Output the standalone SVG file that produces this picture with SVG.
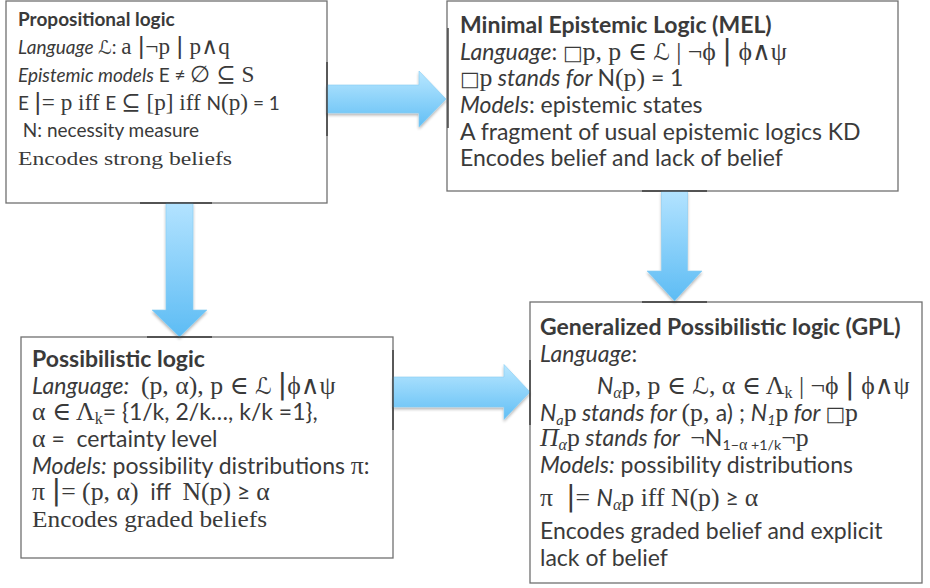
<svg xmlns="http://www.w3.org/2000/svg" width="930" height="588" viewBox="0 0 930 588">
<style>
.box{fill:#fff;stroke:#707070;stroke-width:1.3}
.acc{stroke:#3a3a3a;stroke-width:1.4;fill:none}
.t{font-family:Lato,"Liberation Sans",sans-serif;fill:#3a3a3a;font-size:23px}
.t1{font-size:19px}
.b{font-weight:bold}
.i{font-style:italic}
.m{font-family:"Liberation Serif","DejaVu Serif",serif;font-size:1.12em}
.t1 .m{font-size:1.22em}
.sc{font-family:"DejaVu Serif","DejaVu Sans",serif;font-style:italic}
.sq{font-family:"DejaVu Sans",sans-serif;font-size:0.9em}
.bar{font-family:"DejaVu Sans",sans-serif;font-size:1.25em}
.sub{font-size:0.62em}
.t .sub.m{font-size:0.7em}
.enc{font-family:"Liberation Serif","DejaVu Serif",serif}
.arrow{stroke:#86cdf3;stroke-width:0.6;filter:url(#sh)}
</style>
<defs>
<linearGradient id="gh" x1="0" y1="0" x2="0" y2="1">
<stop offset="0" stop-color="#b9e7ff"/>
<stop offset="1" stop-color="#62bff5"/>
</linearGradient>
<linearGradient id="gv" x1="0" y1="0" x2="0" y2="1">
<stop offset="0" stop-color="#b3e3ff"/>
<stop offset="1" stop-color="#5dbcf4"/>
</linearGradient>
<filter id="sh" x="-20%" y="-20%" width="150%" height="150%">
<feGaussianBlur in="SourceAlpha" stdDeviation="1.5"/>
<feOffset dx="0" dy="2" result="o"/>
<feComponentTransfer><feFuncA type="linear" slope="0.3"/></feComponentTransfer>
<feMerge><feMergeNode/><feMergeNode in="SourceGraphic"/></feMerge>
</filter>
</defs>

<g id="prop">
<rect class="box" x="6" y="1" width="321" height="202"/>
<text class="t t1 b" x="18" y="26">Propositional logic</text>
<text class="t t1" x="18" y="54"><tspan class="i">Language </tspan><tspan class="sc">ℒ</tspan>: <tspan class="m">a </tspan><tspan class="bar">|</tspan><tspan class="m">¬p </tspan><tspan class="bar">|</tspan><tspan class="m"> p∧q</tspan></text>
<text class="t t1" x="18" y="82"><tspan class="i">Epistemic models</tspan> E ≠ <tspan class="m">∅ ⊆ S</tspan></text>
<text class="t t1" x="18" y="110">E <tspan class="bar">|</tspan><tspan class="m">= p iff </tspan>E <tspan class="m">⊆ [p] iff </tspan>N<tspan class="m">(p)</tspan> = 1</text>
<text class="t t1" x="18" y="137" xml:space="preserve"> N: necessity measure</text>
<text class="t t1 enc" x="18" y="165" font-size="22" textLength="214" lengthAdjust="spacingAndGlyphs">Encodes strong beliefs</text>
</g>

<g id="mel">
<rect class="box" x="447" y="1" width="451" height="190"/>
<text class="t b" x="460" y="33">Minimal Epistemic Logic (MEL)</text>
<text class="t" x="460" y="59.5"><tspan class="i">Language</tspan>: <tspan class="sq">□</tspan><tspan class="m">p, p ∈ </tspan><tspan class="sc">ℒ</tspan><tspan class="m"> | ¬ϕ </tspan><tspan class="bar">|</tspan><tspan class="m"> ϕ∧ψ</tspan></text>
<text class="t" x="460" y="86"><tspan class="sq">□</tspan><tspan class="m">p</tspan><tspan class="i"> stands for </tspan>N<tspan class="m">(p)</tspan> = 1</text>
<text class="t" x="460" y="113"><tspan class="i">Models</tspan>: epistemic states</text>
<text class="t" x="460" y="139.5">A fragment of usual epistemic logics KD</text>
<text class="t" x="460" y="166">Encodes belief and lack of belief</text>
</g>

<g id="poss">
<rect class="box" x="21" y="337" width="372" height="221"/>
<text class="t b" x="32" y="367">Possibilistic logic</text>
<text class="t" x="32" y="393.5" xml:space="preserve"><tspan class="i">Language:</tspan>  <tspan class="m">(p, α), p ∈ </tspan><tspan class="sc">ℒ</tspan> <tspan class="bar">|</tspan><tspan class="m">ϕ∧ψ</tspan></text>
<text class="t" x="32" y="420"><tspan class="m">α ∈ Λ</tspan><tspan class="m sub" dy="4">k</tspan><tspan dy="-4">= {1/k, 2/k…, k/k =1},</tspan></text>
<text class="t" x="32" y="447" xml:space="preserve"><tspan class="m">α</tspan> =  certainty level</text>
<text class="t" x="32" y="474"><tspan class="i">Models:</tspan> possibility distributions <tspan class="m">π</tspan>:</text>
<text class="t" x="32" y="500" xml:space="preserve"><tspan class="m">π </tspan><tspan class="bar">|</tspan><tspan class="m">= (p, α)</tspan>  iff  <tspan class="m">N(p)</tspan> ≥ <tspan class="m">α</tspan></text>
<text class="t enc" x="32" y="527" font-size="24" textLength="235" lengthAdjust="spacingAndGlyphs">Encodes graded beliefs</text>
</g>

<g id="gpl">
<rect class="box" x="530" y="302" width="392" height="281"/>
<text class="t b" x="540" y="335">Generalized Possibilistic logic (GPL)</text>
<text class="t" x="540" y="362"><tspan class="i">Language</tspan>:</text>
<text class="t" x="597" y="394"><tspan class="i">N</tspan><tspan class="m i sub" dy="4">α</tspan><tspan class="m" dy="-4">p, p ∈ </tspan><tspan class="sc">ℒ</tspan><tspan class="m">, α ∈ Λ</tspan><tspan class="m sub" dy="4">k</tspan><tspan class="m" dy="-4"> | ¬ϕ </tspan><tspan class="bar">|</tspan><tspan class="m"> ϕ∧ψ</tspan></text>
<text class="t" x="540" y="421"><tspan class="i">N</tspan><tspan class="i sub" dy="4">a</tspan><tspan class="m" dy="-4">p</tspan><tspan class="i"> stands for </tspan><tspan class="m">(p, </tspan>a) ; <tspan class="i">N</tspan><tspan class="i sub" dy="4">1</tspan><tspan class="m" dy="-4">p</tspan><tspan class="i"> for </tspan><tspan class="sq">□</tspan><tspan class="m">p</tspan></text>
<text class="t" x="540" y="446" xml:space="preserve"><tspan class="m i">Π</tspan><tspan class="m i sub" dy="4">α</tspan><tspan class="m" dy="-4">p</tspan><tspan class="i"> stands for  </tspan><tspan class="m">¬</tspan>N<tspan class="sub" dy="4">1−</tspan><tspan class="m sub">α</tspan><tspan class="sub"> +1/k</tspan><tspan class="m" dy="-4">¬p</tspan></text>
<text class="t" x="540" y="473"><tspan class="i">Models:</tspan> possibility distributions</text>
<text class="t" x="540" y="506" xml:space="preserve"><tspan class="m">π  </tspan><tspan class="bar">|</tspan><tspan class="m">= </tspan><tspan class="i">N</tspan><tspan class="m i sub" dy="4">α</tspan><tspan class="m" dy="-4">p iff N(p)</tspan> ≥ <tspan class="m">α</tspan></text>
<text class="t" x="540" y="539">Encodes graded belief and explicit</text>
<text class="t" x="540" y="566">lack of belief</text>
</g>

<g id="connectors">
<path class="arrow" fill="url(#gh)" d="M327,85 H419 V71 L446,99 L419,127 V113 H327 Z"/>
<path class="arrow" fill="url(#gv)" d="M166,203 V310 H152 L179.5,337 L207,310 H193 V203 Z"/>
<path class="arrow" fill="url(#gh)" d="M393,377 H504 V364.5 L530,392 L504,419.5 V407 H393 Z"/>
<path class="arrow" fill="url(#gv)" d="M661.5,191 V271 H647 L674.5,301 L702,271 H687.5 V191 Z"/>
<path class="acc" d="M327,62 V136 M448,28 V128 M140,203 H212 M147,337 H212 M393,350 V430 M530,360 V425 M642,191 H707 M642,302 H707"/>
</g>
</svg>
